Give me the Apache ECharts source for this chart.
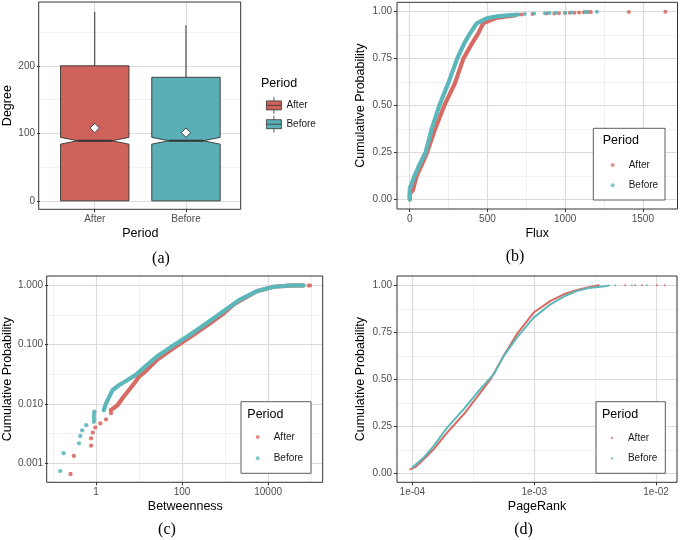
<!DOCTYPE html>
<html>
<head>
<meta charset="utf-8">
<script src="https://cdn.jsdelivr.net/npm/echarts@6/dist/echarts.min.js"></script>
<style>
  html, body { margin: 0; padding: 0; background: #fff; }
  #chart { width: 684px; height: 540px; }
</style>
</head>
<body>
<div id="chart"></div>
<script>
"use strict";

// (a) notched boxplot of degree, one entry per period
const periods = ['After', 'Before'];
const degLower = [0, 0];
const degQ1 = [0, 0];
const degMedian = [89, 89];
const degQ3 = [200, 183];
const degUpper = [280, 260];
const degNotchLo = [84, 84];
const degNotchHi = [94, 94];
const degMean = [108, 101];

// (b) ECDF of flux  [flux, cumulative probability]
const fluxAfter = [[0, 0], [0, 0.03], [20, 0.05], [44, 0.125], [80, 0.19], [113, 0.254], [163, 0.375], [222, 0.5], [291, 0.62], [345, 0.75], [400, 0.83], [441, 0.885], [472, 0.938], [549, 0.965], [600, 0.972], [677, 0.98]];
const fluxAfterTail = [[720, 0.985], [790, 0.988], [880, 0.99], [930, 0.991], [960, 0.992], [1000, 0.993], [1030, 0.994], [1060, 0.995], [1090, 0.996], [1120, 0.997], [1150, 0.998], [1165, 0.998], [1410, 0.999], [1645, 1.0]];
const fluxBefore = [[0, 0], [0, 0.06], [15, 0.09], [30, 0.125], [65, 0.19], [103, 0.254], [141, 0.375], [190, 0.5], [248, 0.62], [305, 0.75], [350, 0.83], [388, 0.885], [431, 0.938], [495, 0.965], [560, 0.975], [633, 0.98], [700, 0.985]];
const fluxBeforeTail = [[740, 0.988], [800, 0.99], [870, 0.992], [900, 0.993], [940, 0.994], [1000, 0.995], [1040, 0.996], [1130, 0.998], [1140, 0.998], [1205, 1.0]];

// (c) ECDF of betweenness (log-log)
const betwAfterLow = [[0.255, 0.00066], [0.304, 0.00133], [0.766, 0.00198], [0.766, 0.00264], [0.84, 0.0033], [0.96, 0.004], [1.26, 0.0047], [1.7, 0.0055], [2.22, 0.007], [2.22, 0.0079]];
const betwAfter = [[2.22, 0.0079], [3.18, 0.0096], [4.1, 0.0125], [5.4, 0.0161], [7.7, 0.0223], [10, 0.0289], [13, 0.0337], [27, 0.0568], [65, 0.089], [158, 0.136], [385, 0.212], [934, 0.339], [1590, 0.48], [2270, 0.56], [5530, 0.8], [13400, 0.95], [32500, 0.995], [66500, 1.0]];
const betwAfterTail = [[87800, 1.0], [95000, 1.0]];
const betwBeforeLow = [[0.147, 0.00074], [0.175, 0.00148], [0.4, 0.00217], [0.43, 0.0029], [0.474, 0.0036], [0.59, 0.0044], [0.885, 0.005], [0.9, 0.0055], [0.885, 0.0061], [0.9, 0.0068], [0.91, 0.0074]];
const betwBefore = [[1.51, 0.0079], [1.7, 0.0102], [2.03, 0.0133], [2.43, 0.0172], [3.46, 0.0209], [5.4, 0.0254], [8.4, 0.031], [13, 0.041], [27, 0.0646], [65, 0.099], [158, 0.15], [385, 0.235], [934, 0.37], [2270, 0.583], [5530, 0.805], [13400, 0.95], [32500, 0.997], [66500, 1.0]];

// (d) ECDF of pagerank
const prAfter = [[9.6e-5, 0.023], [1.06e-4, 0.035], [1.24e-4, 0.076], [1.5e-4, 0.13], [1.93e-4, 0.218], [2.64e-4, 0.315], [3.62e-4, 0.43], [4.37e-4, 0.5], [5.62e-4, 0.625], [7.2e-4, 0.74], [9.9e-4, 0.855], [1.36e-3, 0.917], [1.75e-3, 0.952], [2.25e-3, 0.975], [2.8e-3, 0.99], [3.38e-3, 1.0]];
const prAfterTail = [[5.58e-3, 1.0], [6.74e-3, 1.0], [7.65e-3, 1.0], [1.02e-2, 1.0], [1.18e-2, 1.0]];
const prBefore = [[1.0e-4, 0.032], [1.24e-4, 0.085], [1.5e-4, 0.147], [1.93e-4, 0.244], [2.64e-4, 0.342], [3.62e-4, 0.45], [4.66e-4, 0.528], [5.62e-4, 0.625], [7.2e-4, 0.722], [9.9e-4, 0.828], [1.36e-3, 0.899], [1.75e-3, 0.94], [2.25e-3, 0.97], [2.8e-3, 0.985], [3.8e-3, 0.995], [4.1e-3, 0.998]];
const prBeforeTail = [[4.62e-3, 1.0], [6.34e-3, 1.0], [8.4e-3, 1.0]];

// tick breaks (major) and minor grid breaks
const degBreaks = [0, 100, 200];
const degMinor = [50, 150, 250];
const probBreaks = [0, 0.25, 0.5, 0.75, 1];
const probMinor = [0.125, 0.375, 0.625, 0.875];
const fluxBreaks = [0, 500, 1000, 1500];
const fluxMinor = [250, 750, 1250];
const betwBreaks = [1, 100, 10000];
const betwMinor = [0.1, 10, 1000, 100000];
const betwProbBreaks = [0.001, 0.01, 0.1, 1];
const betwProbMinor = [0.00316, 0.0316, 0.316];
const prBreaks = [1e-4, 1e-3, 1e-2];
const prMinor = [3.16e-4, 3.16e-3];

const FONT = '"Liberation Sans", Arial, sans-serif';
const RED = '#CF625B';
const TEAL = '#5AAFB6';
const PT_RED = '#D76B63';
const PT_TEAL = '#5BB7BA';
const KEY_RED = '#E0918A';
const KEY_TEAL = '#80CCC7';
const MAJOR = '#DCDCDC';
const MINOR = '#ECECEC';

// plot panels (pixel boxes of the ggplot panels)
let panels = [
    {left: 38.7, top: 2, width: 202, height: 207.3},
    {left: 397, top: 2.3, width: 280.5, height: 206.7},
    {left: 46.7, top: 276, width: 276, height: 206.3},
    {left: 397, top: 276, width: 280, height: 206.3}
];

function majorAxis(dim, grid, type, min, max, breaks, fmt, name, gap) {
    let ax = {
        type: type, gridIndex: grid, min: min, max: max,
        position: dim === 'x' ? 'bottom' : 'left',
        z: 1,
        name: name, nameLocation: 'middle', nameGap: gap,
        nameTextStyle: {fontSize: 12.5, color: '#000', fontFamily: FONT},
        axisLine: {show: false, onZero: false},
        axisTick: {show: true, length: 3, customValues: breaks, lineStyle: {color: '#333', width: 1}},
        axisLabel: {show: true, customValues: breaks, formatter: fmt, margin: 5,
            fontSize: 10, color: '#4D4D4D', fontFamily: FONT},
        splitLine: {show: true, lineStyle: {color: MAJOR, width: 1.2}},
        minorTick: {show: false}, minorSplitLine: {show: false}
    };
    if (type === 'log') ax.logBase = 10;
    return ax;
}

function minorAxis(dim, grid, type, min, max, breaks) {
    let ax = {
        type: type, gridIndex: grid, min: min, max: max,
        position: dim === 'x' ? 'bottom' : 'left',
        z: 0,
        axisLine: {show: false, onZero: false},
        axisTick: {show: false, customValues: breaks},
        axisLabel: {show: false, customValues: breaks},
        splitLine: {show: true, lineStyle: {color: MINOR, width: 0.8}}
    };
    if (type === 'log') ax.logBase = 10;
    return ax;
}

let aRange = [-12.5, 294.5];
let bX = [-82, 1723], probR = [-0.05, 1.05];
let cX = [0.0762, 186000], cY = [0.000478, 1.442];
let dX = [7.48e-5, 0.01486], dY = [-0.046, 1.049];

let xAxes = [
    majorAxis('x', 0, 'value', 0.4, 2.6, [1, 2], v => periods[Math.round(v) - 1] || '', 'Period', 18),
    majorAxis('x', 1, 'value', bX[0], bX[1], fluxBreaks, v => String(v), 'Flux', 18),
    majorAxis('x', 2, 'log', cX[0], cX[1], betwBreaks, v => String(Math.round(v)), 'Betweenness', 18),
    majorAxis('x', 3, 'log', dX[0], dX[1], prBreaks, v => '1e-0' + Math.round(-Math.log10(v)), 'PageRank', 18),
    minorAxis('x', 1, 'value', bX[0], bX[1], fluxMinor),
    minorAxis('x', 2, 'log', cX[0], cX[1], betwMinor),
    minorAxis('x', 3, 'log', dX[0], dX[1], prMinor)
];

let yAxes = [
    majorAxis('y', 0, 'value', aRange[0], aRange[1], degBreaks, v => String(v), 'Degree', 26),
    majorAxis('y', 1, 'value', probR[0], probR[1], probBreaks, v => v.toFixed(2), 'Cumulative Probability', 29.5),
    majorAxis('y', 2, 'log', cY[0], cY[1], betwProbBreaks, v => v.toFixed(3), 'Cumulative Probability', 34),
    majorAxis('y', 3, 'value', dY[0], dY[1], probBreaks, v => v.toFixed(2), 'Cumulative Probability', 29.5),
    minorAxis('y', 0, 'value', aRange[0], aRange[1], degMinor),
    minorAxis('y', 1, 'value', probR[0], probR[1], probMinor),
    minorAxis('y', 2, 'log', cY[0], cY[1], betwProbMinor),
    minorAxis('y', 3, 'value', dY[0], dY[1], probMinor)
];

// notched box, whiskers, median and mean diamond
function renderBox(params, api) {
    let x = api.value(0);
    let hw = 0.375;
    let p = (xx, yy) => api.coord([xx, yy]);
    let lo = api.value(1), q1 = api.value(2), med = api.value(3), q3 = api.value(4);
    let up = api.value(5), nlo = api.value(6), nhi = api.value(7), mean = api.value(8);
    let outline = [p(x - hw, q1), p(x - hw, nlo), p(x - hw / 2, med), p(x - hw, nhi), p(x - hw, q3),
        p(x + hw, q3), p(x + hw, nhi), p(x + hw / 2, med), p(x + hw, nlo), p(x + hw, q1)];
    let c = p(x, mean);
    let r = 4.7;
    let seg = (a, b, w) => ({
        type: 'line',
        shape: {x1: a[0], y1: a[1], x2: b[0], y2: b[1]},
        style: {stroke: '#333', lineWidth: w}
    });
    return {
        type: 'group',
        children: [
            seg(p(x, q3), p(x, up), 1),
            seg(p(x, q1), p(x, lo), 1),
            {type: 'polygon', shape: {points: outline},
                style: {fill: api.visual('color'), stroke: '#333', lineWidth: 0.9}},
            seg(p(x - hw / 2, med), p(x + hw / 2, med), 2),
            {type: 'polygon',
                shape: {points: [[c[0], c[1] - r], [c[0] + r, c[1]], [c[0], c[1] + r], [c[0] - r, c[1]]]},
                style: {fill: '#fff', stroke: '#333', lineWidth: 0.9}}
        ]
    };
}

let series = [];

periods.forEach((name, i) => {
    series.push({
        type: 'custom', name: name, xAxisIndex: 0, yAxisIndex: 0,
        renderItem: renderBox,
        itemStyle: {color: i === 0 ? RED : TEAL},
        encode: {x: 0, y: [1, 2, 3, 4, 5]},
        data: [[i + 1, degLower[i], degQ1[i], degMedian[i], degQ3[i], degUpper[i], degNotchLo[i], degNotchHi[i], degMean[i]]],
        silent: true
    });
});

let lineS = (name, ax, data, color, width) => ({
    type: 'line', name: name, xAxisIndex: ax, yAxisIndex: ax, data: data,
    symbol: 'none', showSymbol: false, silent: true, z: 2,
    itemStyle: {color: color},
    lineStyle: {color: color, width: width, cap: 'round', join: 'round'}
});
let dotS = (name, ax, data, color, size) => ({
    type: 'scatter', name: name, xAxisIndex: ax, yAxisIndex: ax, data: data,
    symbolSize: size, silent: true, z: 2,
    itemStyle: {color: color, opacity: 0.9}
});

series.push(
    lineS('After', 1, fluxAfter, PT_RED, 4.2),
    dotS('After', 1, fluxAfterTail, PT_RED, 4),
    lineS('Before', 1, fluxBefore, PT_TEAL, 4.2),
    dotS('Before', 1, fluxBeforeTail, PT_TEAL, 4),

    dotS('After', 2, betwAfterLow, PT_RED, 4.3),
    lineS('After', 2, betwAfter, PT_RED, 4.2),
    dotS('After', 2, betwAfterTail, PT_RED, 4),
    dotS('Before', 2, betwBeforeLow, PT_TEAL, 4.3),
    lineS('Before', 2, betwBefore, PT_TEAL, 4.2),

    lineS('After', 3, prAfter, PT_RED, 2),
    dotS('After', 3, prAfterTail, PT_RED, 2),
    lineS('Before', 3, prBefore, PT_TEAL, 2),
    dotS('Before', 3, prBeforeTail, PT_TEAL, 2)
);

const boxIcon = 'path://M0,4H15V13H0Z M0,8.5H15 M7.5,0V4 M7.5,13V17';

let legendTxt = {fontSize: 10, color: '#1a1a1a', fontFamily: FONT};
let dotLegend = (left, top, gap, size) => ({
    orient: 'vertical', left: left, top: top, itemGap: gap,
    itemWidth: 22, itemHeight: size, selectedMode: false,
    textStyle: legendTxt,
    data: [
        {name: 'After', icon: 'circle', itemStyle: {color: KEY_RED, borderWidth: 0}},
        {name: 'Before', icon: 'circle', itemStyle: {color: KEY_TEAL, borderWidth: 0}}
    ]
});

let legends = [
    {
        orient: 'vertical', left: 261, top: 91.5, itemGap: 1,
        itemWidth: 15, itemHeight: 17, selectedMode: false,
        textStyle: legendTxt,
        data: [
            {name: 'After', icon: boxIcon, itemStyle: {color: RED, borderColor: '#333', borderWidth: 0.8}},
            {name: 'Before', icon: boxIcon, itemStyle: {color: TEAL, borderColor: '#333', borderWidth: 0.8}}
        ]
    },
    dotLegend(605.7, 155, 10.3, 4),
    dotLegend(250.7, 427, 11.3, 4),
    dotLegend(605.7, 428, 10.6, 2.5)
];

let graphics = [];
panels.forEach(pn => {
    graphics.push({type: 'rect', z: 10, silent: true,
        shape: {x: pn.left, y: pn.top, width: pn.width, height: pn.height},
        style: {fill: 'none', stroke: '#333', lineWidth: 1}});
});
// legend boxes inside panels b, c, d
[[593.3, 128.3, 71.7, 71.7], [241, 401.7, 70, 71.6], [596, 401.7, 69.3, 71.6]].forEach(b => {
    graphics.push({type: 'rect', z: 3, silent: true,
        shape: {x: b[0], y: b[1], width: b[2], height: b[3]},
        style: {fill: '#fff', stroke: '#333', lineWidth: 0.8}});
});
[[261, 83.3], [602.7, 141], [247.3, 415], [602, 415]].forEach(t => {
    graphics.push({type: 'text', z: 5, silent: true, x: t[0], y: t[1],
        style: {text: 'Period', fontSize: 12.5, fontFamily: FONT, fill: '#000', verticalAlign: 'middle'}});
});
[['(a)', 161, 258.5], ['(b)', 515, 257], ['(c)', 167, 530], ['(d)', 523.5, 530]].forEach(t => {
    graphics.push({type: 'text', z: 5, silent: true, x: t[1], y: t[2],
        style: {text: t[0], fontSize: 16, fontFamily: '"Liberation Serif", "DejaVu Serif", serif',
            fill: '#000', align: 'center', verticalAlign: 'middle'}});
});

let option = {
    backgroundColor: '#fff',
    animation: false,
    grid: panels.map(pn => Object.assign({show: false, containLabel: false}, pn)),
    xAxis: xAxes,
    yAxis: yAxes,
    legend: legends,
    graphic: graphics,
    series: series
};

let myChart = echarts.init(document.getElementById('chart'), null, {renderer: 'canvas'});
myChart.setOption(option);
</script>
</body>
</html>
